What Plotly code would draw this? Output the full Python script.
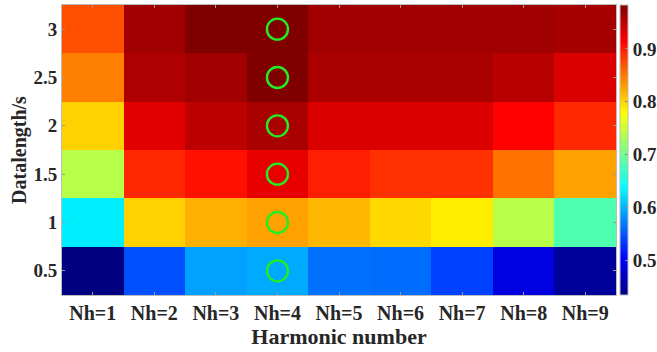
import plotly.graph_objects as go

harmonics = [1, 2, 3, 4, 5, 6, 7, 8, 9]
x_labels = ["Nh=1", "Nh=2", "Nh=3", "Nh=4", "Nh=5", "Nh=6", "Nh=7", "Nh=8", "Nh=9"]
data_lengths = [0.5, 1, 1.5, 2, 2.5, 3]
y_labels = ["0.5", "1", "1.5", "2", "2.5", "3"]

# rows follow data_lengths (0.5 s at the bottom)
row_05 = [0.435, 0.546, 0.590, 0.595, 0.564, 0.562, 0.538, 0.487, 0.449]
row_10 = [0.632, 0.802, 0.820, 0.828, 0.816, 0.798, 0.787, 0.739, 0.683]
row_15 = [0.739, 0.893, 0.906, 0.927, 0.898, 0.888, 0.888, 0.854, 0.828]
row_20 = [0.802, 0.931, 0.950, 0.961, 0.934, 0.934, 0.934, 0.914, 0.893]
row_25 = [0.846, 0.958, 0.965, 0.983, 0.960, 0.960, 0.960, 0.953, 0.934]
row_30 = [0.872, 0.965, 0.983, 0.983, 0.965, 0.965, 0.965, 0.965, 0.962]
z = [row_05, row_10, row_15, row_20, row_25, row_30]

best_harmonic = [4, 4, 4, 4, 4, 4]

zmin, zmax = 0.435, 0.983

jet = [
    [0.0, "rgb(0,0,128)"],
    [0.125, "rgb(0,0,255)"],
    [0.375, "rgb(0,255,255)"],
    [0.625, "rgb(255,255,0)"],
    [0.875, "rgb(255,0,0)"],
    [1.0, "rgb(128,0,0)"],
]

font_family = "Liberation Serif"
txt_color = "#262626"

fig = go.Figure()
fig.add_trace(go.Heatmap(
    x=harmonics, y=data_lengths, z=z,
    zmin=zmin, zmax=zmax, colorscale=jet,
    colorbar=dict(
        thickness=8, len=1.0, lenmode="fraction", y=0.5, yanchor="middle",
        x=1.007, xanchor="left", xpad=0, ypad=0,
        outlinecolor="#bbbbbb", outlinewidth=1,
        tickvals=[0.5, 0.6, 0.7, 0.8, 0.9],
        ticktext=["0.5", "0.6", "0.7", "0.8", "0.9"],
        ticks="inside", ticklen=3, tickcolor="#888888",
        tickfont=dict(family=font_family, size=19, color=txt_color, weight="bold"),
    ),
    showscale=True,
))
fig.add_trace(go.Scatter(
    x=best_harmonic, y=data_lengths, mode="markers",
    marker=dict(symbol="circle-open", size=21, color="#22ee22", line=dict(width=2.4, color="#22ee22")),
    showlegend=False, hoverinfo="skip",
))

fig.update_layout(
    width=657, height=352,
    margin=dict(l=62, r=41, t=5, b=57, autoexpand=False),
    paper_bgcolor="white", plot_bgcolor="white",
    font=dict(family=font_family, color=txt_color),
    showlegend=False,
)
fig.update_xaxes(
    range=[0.5, 9.5], tickvals=harmonics, ticktext=x_labels,
    ticks="inside", ticklen=3, tickcolor="#999999",
    showline=True, linecolor="#bbbbbb", linewidth=1, mirror="ticks",
    showgrid=False, zeroline=False,
    tickfont=dict(family=font_family, size=20, color=txt_color, weight="bold"),
    title=dict(text="Harmonic number", standoff=0,
               font=dict(family=font_family, size=22, color=txt_color, weight="bold")),
)
fig.update_yaxes(
    range=[0.25, 3.25], tickvals=data_lengths, ticktext=y_labels,
    ticks="inside", ticklen=3, tickcolor="#999999",
    showline=True, linecolor="#bbbbbb", linewidth=1, mirror="ticks",
    showgrid=False, zeroline=False,
    tickfont=dict(family=font_family, size=19, color=txt_color, weight="bold"),
    title=dict(text="Datalength/s", standoff=1,
               font=dict(family=font_family, size=20, color=txt_color, weight="bold")),
)

fig.write_html("out.html")
